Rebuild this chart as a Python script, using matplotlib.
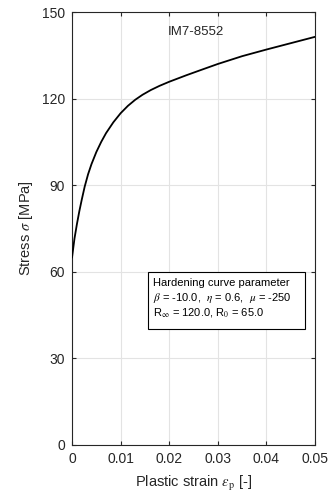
import matplotlib
matplotlib.use("Agg")
import matplotlib.pyplot as plt
from matplotlib.patches import Rectangle

# Hardening curve
strain = [0, 0.0005, 0.001, 0.0015, 0.002, 0.0026, 0.0033, 0.004, 0.005, 0.006,
          0.007, 0.0085, 0.01, 0.0115, 0.013, 0.0145, 0.0162, 0.018, 0.02,
          0.0235, 0.0265, 0.03, 0.035, 0.04, 0.045, 0.05]
stress = [65.0, 71.5, 76.5, 81.0, 85.0, 89.5, 93.8, 97.3, 101.5, 105.0,
          108.05, 111.8, 114.95, 117.5, 119.6, 121.33, 122.96, 124.42, 125.84,
          128.08, 129.9, 132.0, 134.7, 137.0, 139.2, 141.4]

xticks = [0, 0.01, 0.02, 0.03, 0.04, 0.05]
xticklabels = ["0", "0.01", "0.02", "0.03", "0.04", "0.05"]
yticks = [0, 30, 60, 90, 120, 150]

param_lines = ['Hardening curve parameter',
               r'$\beta$ = -10.0,  $\eta$ = 0.6,  $\mu$ = -250',
               r'R$_\infty$ = 120.0, R$_0$ = 65.0']

plt.rcParams['font.family'] = ['Liberation Sans', 'DejaVu Sans']
plt.rcParams['mathtext.fontset'] = 'stix'

fig = plt.figure(figsize=(3.32, 5.0), dpi=100)
ax = fig.add_axes([0.217, 0.11, 0.732, 0.866])

ax.plot(strain, stress, color='black', linewidth=1.3, zorder=3)

ax.set_xlim(0, 0.05)
ax.set_ylim(0, 150)
ax.set_xticks(xticks)
ax.set_xticklabels(xticklabels)
ax.set_yticks(yticks)
ax.grid(True, color='#e3e3e3', linewidth=0.8)
ax.set_axisbelow(True)
ax.tick_params(direction='in', top=True, right=True, labelsize=10, length=3, pad=5,
               color='#262626', labelcolor='#262626')
for s in ax.spines.values():
    s.set_color('#262626')
    s.set_linewidth(0.8)

ax.set_xlabel(r'Plastic strain $\epsilon_{\mathrm{p}}$ [-]', fontsize=10.5, color='#262626', labelpad=6)
ax.set_ylabel(r'Stress $\sigma$ [MPa]', fontsize=10.5, color='#262626', labelpad=5)

ax.text(0.508, 0.954, 'IM7-8552', transform=ax.transAxes, ha='center', va='center',
        fontsize=9.5, color='#262626')

# parameter box
ax.add_patch(Rectangle((0.313, 0.267), 0.646, 0.132, transform=ax.transAxes,
                       facecolor='white', edgecolor='black', linewidth=0.8, zorder=4))
for line, yy in zip(param_lines, [0.375, 0.340, 0.3055]):
    ax.text(0.332, yy, line, transform=ax.transAxes, ha='left', va='center',
            fontsize=8, color='black', zorder=5)

fig.savefig('out.png', dpi=100)
